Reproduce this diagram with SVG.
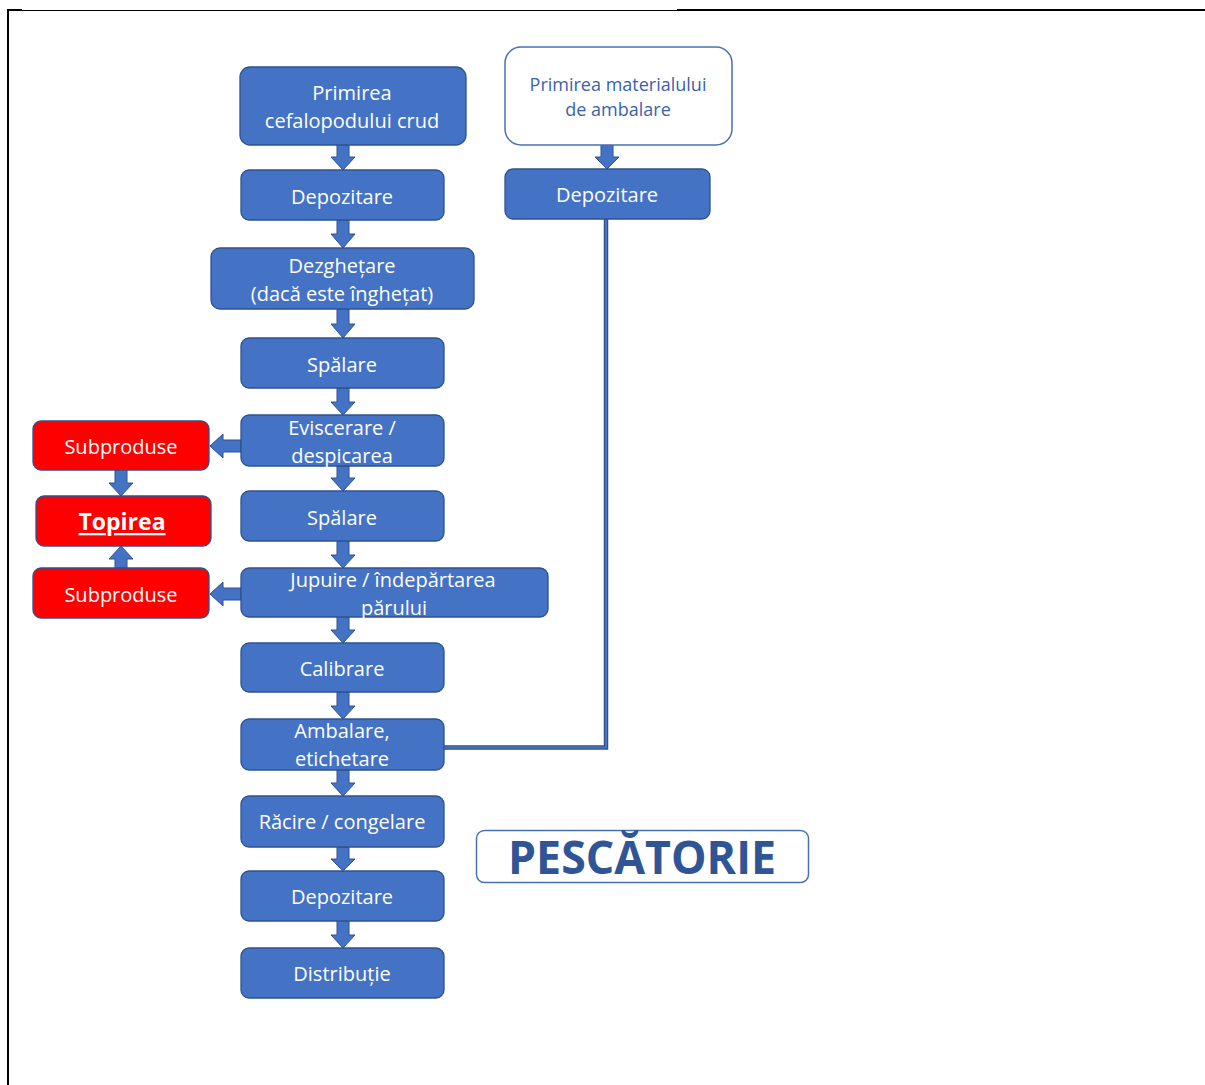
<svg xmlns="http://www.w3.org/2000/svg" width="1205" height="1085" viewBox="0 0 1205 1085">
  <style>
    .step { fill: #4472c4; stroke: #2f528f; stroke-width: 1.3; }
    .waste { fill: #ff0000; stroke: #2f528f; stroke-width: 1.3; }
    .open { fill: #ffffff; stroke: #4a6fb5; stroke-width: 1.5; }
    .lbl { font-family: "Open Sans", "Noto Sans", sans-serif; font-size: 20px; fill: #ffffff; text-anchor: middle; dominant-baseline: central; }
    .lbl-blue { font-family: "Open Sans", "Noto Sans", sans-serif; font-size: 18px; fill: #3a62ac; text-anchor: middle; dominant-baseline: central; }
    .lbl-bold { font-family: "Open Sans", "Noto Sans", sans-serif; font-size: 23px; font-weight: bold; fill: #ffffff; text-anchor: middle; dominant-baseline: central; text-decoration: underline; }
    .title { font-family: "Open Sans", "Noto Sans", sans-serif; font-size: 47px; font-weight: bold; fill: #2f5597; text-anchor: middle; }
    .arrow { fill: #4472c4; stroke: #2f528f; stroke-width: 1; stroke-linejoin: miter; }
    .frame { stroke: #000000; fill: none; }
  </style>

  <!-- page frame -->
  <g id="frame">
    <line class="frame" x1="8" y1="9" x2="8" y2="1085" stroke-width="2"/>
    <line class="frame" x1="7" y1="10" x2="22" y2="10" stroke-width="2"/>
    <line class="frame" x1="22" y1="10.5" x2="677" y2="10.5" stroke-width="1"/>
    <line class="frame" x1="677" y1="10" x2="1205" y2="10" stroke-width="2"/>
  </g>

  <!-- connectors -->
  <g id="connectors">
    <!-- main column, downward block arrows -->
    <path class="arrow" d="M337,145 H349 V157 H355 L343,170 L331,157 H337 Z"/>
    <path class="arrow" d="M337,220 H349 V234 H355 L343,248 L331,234 H337 Z"/>
    <path class="arrow" d="M337,309 H349 V324 H355 L343,338 L331,324 H337 Z"/>
    <path class="arrow" d="M337,388 H349 V402 H355 L343,415 L331,402 H337 Z"/>
    <path class="arrow" d="M337,466 H349 V478 H355 L343,491 L331,478 H337 Z"/>
    <path class="arrow" d="M337,541 H349 V555 H355 L343,568 L331,555 H337 Z"/>
    <path class="arrow" d="M337,617 H349 V630 H355 L343,643 L331,630 H337 Z"/>
    <path class="arrow" d="M337,692 H349 V706 H355 L343,719 L331,706 H337 Z"/>
    <path class="arrow" d="M337,770 H349 V783 H355 L343,796 L331,783 H337 Z"/>
    <path class="arrow" d="M337,847 H349 V859 H355 L343,871 L331,859 H337 Z"/>
    <path class="arrow" d="M337,921 H349 V935 H355 L343,948 L331,935 H337 Z"/>

    <!-- packaging column -->
    <path class="arrow" d="M601,145 H613 V157 H619 L607,169 L595,157 H601 Z"/>
    <polyline points="606,219 606,747.5 444,747.5" fill="none" stroke="#2f528f" stroke-width="4.5"/>
    <polyline points="606,219 606,747.5 444,747.5" fill="none" stroke="#4472c4" stroke-width="2"/>

    <!-- by-product branches -->
    <path class="arrow" d="M241,440 V452 H223 V458 L210,446 L223,434 V440 Z"/>
    <path class="arrow" d="M241,588 V600 H223 V606 L210,594 L223,582 V588 Z"/>
    <path class="arrow" d="M115,470 H127 V483 H133 L121,496 L109,483 H115 Z"/>
    <path class="arrow" d="M115,568 H127 V559 H133 L121,546 L109,559 H115 Z"/>
  </g>

  <!-- process steps -->
  <g id="n-primire">
    <rect class="step" x="240" y="67" width="226" height="78" rx="10"/>
    <text class="lbl" x="352" y="92">Primirea</text>
    <text class="lbl" x="352" y="120">cefalopodului crud</text>
  </g>
  <g id="n-depozitare1">
    <rect class="step" x="241" y="170" width="203" height="50" rx="8"/>
    <text class="lbl" x="342" y="196">Depozitare</text>
  </g>
  <g id="n-dezghetare">
    <rect class="step" x="211" y="248" width="263" height="61" rx="9"/>
    <text class="lbl" x="342" y="265">Dezghețare</text>
    <text class="lbl" x="342" y="293">(dacă este înghețat)</text>
  </g>
  <g id="n-spalare1">
    <rect class="step" x="241" y="338" width="203" height="50" rx="8"/>
    <text class="lbl" x="342" y="364">Spălare</text>
  </g>
  <g id="n-eviscerare">
    <rect class="step" x="241" y="415" width="203" height="51" rx="8"/>
    <text class="lbl" x="342" y="427">Eviscerare /</text>
    <text class="lbl" x="342" y="455">despicarea</text>
  </g>
  <g id="n-spalare2">
    <rect class="step" x="241" y="491" width="203" height="50" rx="8"/>
    <text class="lbl" x="342" y="517">Spălare</text>
  </g>
  <g id="n-jupuire">
    <rect class="step" x="241" y="568" width="307" height="49" rx="8"/>
    <text class="lbl" x="393" y="579">Jupuire / îndepărtarea</text>
    <text class="lbl" x="394" y="607">părului</text>
  </g>
  <g id="n-calibrare">
    <rect class="step" x="241" y="643" width="203" height="49" rx="8"/>
    <text class="lbl" x="342" y="668">Calibrare</text>
  </g>
  <g id="n-ambalare">
    <rect class="step" x="241" y="719" width="203" height="51" rx="8"/>
    <text class="lbl" x="342" y="730">Ambalare,</text>
    <text class="lbl" x="342" y="758">etichetare</text>
  </g>
  <g id="n-racire">
    <rect class="step" x="241" y="796" width="203" height="51" rx="8"/>
    <text class="lbl" x="342" y="821">Răcire / congelare</text>
  </g>
  <g id="n-depozitare2">
    <rect class="step" x="241" y="871" width="203" height="50" rx="8"/>
    <text class="lbl" x="342" y="896">Depozitare</text>
  </g>
  <g id="n-distributie">
    <rect class="step" x="241" y="948" width="203" height="50" rx="8"/>
    <text class="lbl" x="342" y="973">Distribuție</text>
  </g>

  <!-- packaging material -->
  <g id="n-material">
    <rect class="open" x="505" y="47" width="227" height="98" rx="16"/>
    <text class="lbl-blue" x="618" y="84">Primirea materialului</text>
    <text class="lbl-blue" x="618" y="109">de ambalare</text>
  </g>
  <g id="n-depozitare-material">
    <rect class="step" x="505" y="169" width="205" height="50" rx="8"/>
    <text class="lbl" x="607" y="194">Depozitare</text>
  </g>

  <!-- by-products -->
  <g id="n-subproduse1">
    <rect class="waste" x="33" y="421" width="176" height="49" rx="8"/>
    <text class="lbl" x="121" y="446">Subproduse</text>
  </g>
  <g id="n-topirea">
    <rect class="waste" x="36" y="496" width="175" height="50" rx="8"/>
    <text class="lbl-bold" x="122" y="521">Topirea</text>
  </g>
  <g id="n-subproduse2">
    <rect class="waste" x="33" y="568" width="176" height="50" rx="8"/>
    <text class="lbl" x="121" y="594">Subproduse</text>
  </g>

  <!-- title -->
  <g id="n-title">
    <rect x="476.5" y="830.5" width="332" height="52" rx="8" fill="#ffffff" stroke="#4a6fb5" stroke-width="1.5"/>
    <text class="title" x="642" y="874" textLength="268" lengthAdjust="spacingAndGlyphs">PESCĂTORIE</text>
  </g>
</svg>
